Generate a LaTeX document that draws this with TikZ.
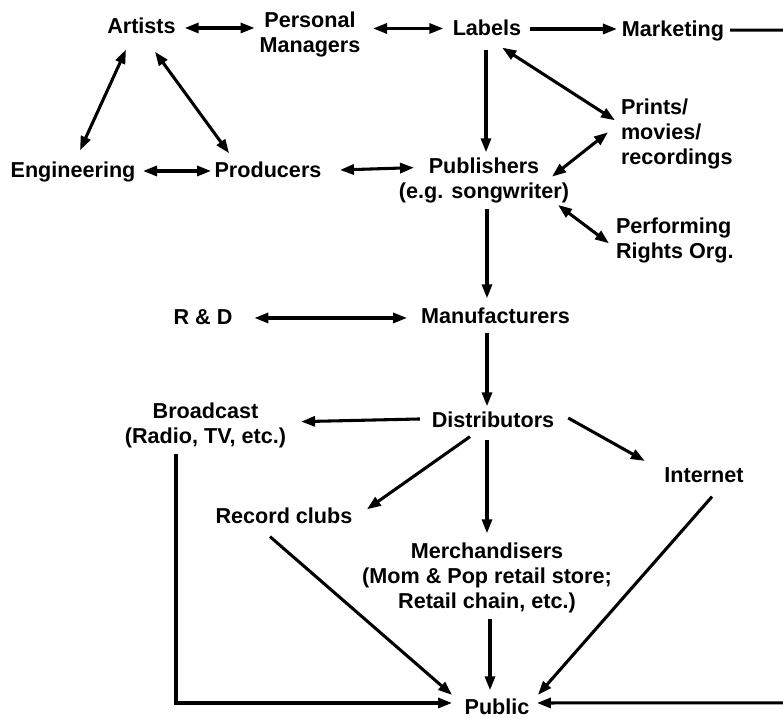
\documentclass[tikz,border=0pt]{standalone}
\usepackage{fontspec}
\setmainfont{Liberation Sans}
\usetikzlibrary{arrows.meta,calc}
\begin{document}
\begin{tikzpicture}[x=0.75pt,y=-0.75pt,
  lbl/.style={font=\fontsize{16.2}{19}\selectfont\bfseries, inner sep=0pt, outer sep=0pt, align=center, anchor=north},
  sgl/.style={draw, line width=2.3pt, -{Triangle[length=10.5pt,width=7.5pt]}},
  dbl/.style={draw, line width=2.3pt, {Triangle[length=10.5pt,width=7.5pt]}-{Triangle[length=10.5pt,width=7.5pt]}}]
\path[fill=white, use as bounding box] (0,0) rectangle (783,719);

\node[lbl] (artists) at (141.5,15.3) {\strut Artists};
\node[lbl] (pm) at (310,9.3) {\strut Personal\\\strut Managers};
\node[lbl] (labels) at (487,17.3) {\strut Labels};
\node[lbl] (marketing) at (673,18.3) {\strut Marketing};
\node[lbl,anchor=north west,align=left] (prints) at (621,96.3) {\strut Prints/\\\strut movies/\\\strut recordings};
\node[lbl] (engineering) at (73,159.3) {\strut Engineering};
\node[lbl] (producers) at (268,159.3) {\strut Producers};
\node[lbl] (publishers) at (484,155.3) {\strut Publishers\\\strut (e.g. songwriter)};
\node[lbl,anchor=north west,align=left] (pro) at (616,215.3) {\strut Performing\\\strut Rights Org.};
\node[lbl] (rd) at (203,306.3) {\strut R \& D};
\node[lbl] (manuf) at (495.5,305.3) {\strut Manufacturers};
\node[lbl] (distr) at (493,409.3) {\strut Distributors};
\node[lbl] (broadcast) at (205.5,400.3) {\strut Broadcast\\\strut (Radio, TV, etc.)};
\node[lbl] (internet) at (704,464.3) {\strut Internet};
\node[lbl] (clubs) at (284,505.3) {\strut Record clubs};
\node[lbl] (merch) at (487,540.3) {\strut Merchandisers\\\strut (Mom \& Pop retail store;\\\strut Retail chain, etc.)};
\node[lbl] (public) at (497,696.3) {\strut Public};

\coordinate (rtop) at (800,30);
\coordinate (rbot) at (800,702.8);

% top row
\draw[dbl] ($(artists.east)+(9,0)$) -- ($(artists.east -| pm.west)+(-5,0)$);
\draw[dbl] ($(labels.west -| pm.east)+(12.6,-1.5)$) -- ($(labels.west)+(-9.5,-1.5)$);
\draw[sgl] ($(labels.east)+(9,-1)$) -- ($(labels.east -| marketing.west)+(-5,-1)$);
\draw[sgl] ($(marketing.east)+(6,-0.8)$) -- (rtop) -- (rbot) -- ($(public.east)+(7.5,-6)$);

% artists triangle
\draw[dbl] ($(artists.south)+(-15.5,9)$) -- ($(engineering.north)+(7,-9)$);
\draw[dbl] ($(artists.south)+(13.5,11)$) -- ($(producers.north west)+(14.5,-6)$);
\draw[dbl] ($(engineering.east)+(7.6,-1)$) -- ($(producers.west)+(-3.5,-1)$);
\draw[dbl] ($(producers.east)+(18.5,-2)$) -- ($(publishers.west)+(15,-13)$);

% labels / publishers
\draw[sgl] ($(labels.south)+(-1,7)$) -- ($(labels.south |- publishers.north)+(-1,-3)$);
\draw[dbl] ($(labels.south east)+(-19,5)$) -- ($(prints.north west)+(-6,24)$);
\draw[dbl] ($(publishers.east)+(-17,-4)$) -- ($(prints.north west)+(-13,36)$);
\draw[dbl] ($(publishers.south east)+(-11,-1)$) -- ($(pro.north west)+(-7,28)$);
\draw[sgl] ($(publishers.south)+(3,3)$) -- ($(publishers.south |- manuf.north)+(3,-7)$);

% manufacturers
\draw[dbl] ($(rd.east)+(22,-1)$) -- ($(rd.east -| manuf.west)+(-14,-1)$);
\draw[sgl] ($(manuf.south)+(-8.5,2)$) -- ($(manuf.south |- distr.north)+(-8.5,-3)$);

% distributors
\draw[sgl] ($(distr.west)+(-12,-3)$) -- ($(broadcast.east)+(15,-4)$);
\draw[sgl] ($(distr.east)+(14,-4)$) -- ($(internet.west)+(-19.5,-16)$);
\draw[sgl] ($(distr.south)+(-23,2)$) -- ($(clubs.north east)+(14.5,4)$);
\draw[sgl] ($(distr.south)+(-6,5)$) -- ($(distr.south |- merch.north)+(-6,-7)$);

% to public
\draw[sgl] ($(clubs.south)+(-14,6)$) -- ($(public.west)+(-12.5,-14)$);
\draw[sgl] ($(merch.south)+(3,3)$) -- ($(merch.south |- public.north)+(3,-6)$);
\draw[sgl] ($(internet.south)+(8,7)$) -- ($(public.east)+(8.5,-14)$);
\draw[sgl] ($(broadcast.south)+(-29.5,3)$) |- ($(public.west)+(-12.5,-6)$);
\end{tikzpicture}
\end{document}
